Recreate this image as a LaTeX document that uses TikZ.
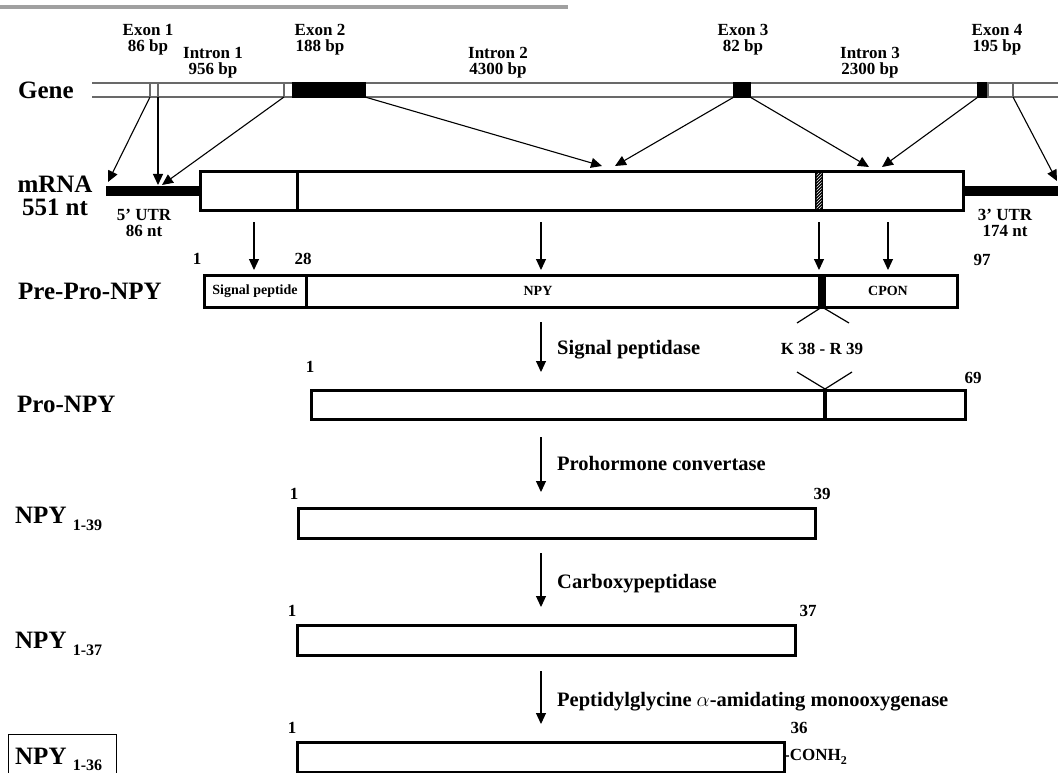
\documentclass[tikz,border=0pt]{standalone}
\usepackage{fontspec}
\setmainfont{Liberation Serif}
\usetikzlibrary{arrows.meta,patterns}
\definecolor{barcol}{RGB}{160,160,160}
\definecolor{genecol}{RGB}{105,105,105}

\begin{document}
\begin{tikzpicture}[x=1pt,y=-1pt,
  big/.style={font=\fontsize{25}{23}\selectfont\bfseries,inner sep=0pt,anchor=west},
  lab/.style={font=\fontsize{17}{16}\selectfont\bfseries,inner sep=0pt,align=center},
  num/.style={font=\fontsize{17}{17}\selectfont\bfseries,inner sep=0pt},
  enz/.style={font=\fontsize{20.5}{20.5}\selectfont\bfseries,inner sep=0pt,anchor=west},
  tiny/.style={font=\fontsize{14}{14}\selectfont\bfseries,inner sep=0pt},
  seg/.style={draw,line width=3pt,inner sep=0pt,outer sep=0pt,anchor=north west},
  exon/.style={draw=genecol,line width=1.5pt,inner sep=0pt,outer sep=0pt,anchor=north west,minimum height=14pt},
  arr/.style={-{Triangle[length=11pt,width=10pt]},line width=1.1pt}]

\useasboundingbox (0,0) rectangle (1058,773);
\fill[barcol] (0,5) rectangle (568,9);

% gene
\draw[genecol,line width=1.5pt] (92,83) -- (1062,83);
\draw[genecol,line width=1.5pt] (92,97) -- (1062,97);
\node[exon,fill=white,minimum width=8pt] (1) at (150,83) {};
\node[exon,fill=white,minimum width=9pt] (2) at (284,83) {};
\node[exon,fill=black,draw=black,minimum width=72pt] (3) at (293,83) {};
\node[exon,fill=black,draw=black,minimum width=16pt] (4) at (734,83) {};
\node[exon,fill=black,draw=black,minimum width=10pt] (5) at (978,83) {};
\node[exon,fill=white,minimum width=25pt] (6) at (988,83) {};

\node[big] (7) at (18,90) {Gene};
\node[lab] (8) at (148,40) {Exon 1\\86 bp};
\node[lab] (9) at (213,63) {Intron 1\\956 bp};
\node[lab] (10) at (320,40) {Exon 2\\188 bp};
\node[lab] (11) at (498,63) {Intron 2\\4300 bp};
\node[lab] (12) at (743,40) {Exon 3\\82 bp};
\node[lab] (13) at (870,63) {Intron 3\\2300 bp};
\node[lab] (14) at (997,40) {Exon 4\\195 bp};

% mRNA
\node[big,anchor=center,align=center] (15) at (55,196) {mRNA\\551 nt};
\node[seg,minimum width=763pt,minimum height=38pt] (16) at (200,172) {};
\draw[line width=3pt] (297,172) -- (297,210);
\fill[black] (815,172) rectangle (823,210);
\fill[pattern=north east lines,pattern color=white] (816.5,174) rectangle (821.5,208);
\coordinate (u5) at (106,191);
\coordinate (u3) at (1062,191);
\draw[line width=9pt] (u5) -- (16.west);
\draw[line width=9pt] (16.east) -- (u3);
\node[lab] (17) at (144,223) {5' UTR\\86 nt};
\node[lab] (18) at (1005,223) {3' UTR\\174 nt};

\coordinate (a1) at (108,182);
\coordinate (a2) at (158,185);
\coordinate (a3) at (162,185);
\coordinate (a4) at (602,166);
\coordinate (a5) at (615,166);
\coordinate (a6) at (869,167);
\coordinate (a7) at (882,167);
\coordinate (a8) at (1057,181);
\draw[arr] (1.south west) -- (a1);
\draw[arr] (1.south east) -- (a2);
\draw[arr] (2.south west) -- (a3);
\draw[arr] (3.south east) -- (a4);
\draw[arr] (4.south west) -- (a5);
\draw[arr] (4.south east) -- (a6);
\draw[arr] (5.south west) -- (a7);
\draw[arr] (6.south east) -- (a8);

% pre-pro-NPY
\coordinate (b1) at (254,222);
\coordinate (b2) at (541,222);
\coordinate (b3) at (819,222);
\coordinate (b4) at (888,222);
\coordinate (c1) at (254,270);
\coordinate (c2) at (541,270);
\coordinate (c3) at (819,270);
\coordinate (c4) at (888,270);
\draw[arr] (b1) -- (c1);
\draw[arr] (b2) -- (c2);
\draw[arr] (b3) -- (c3);
\draw[arr] (b4) -- (c4);

\node[seg,minimum width=753pt,minimum height=32pt] (19) at (204,275) {};
\draw[line width=3pt] (306,275) -- (306,307);
\fill[black] (818,275) rectangle (826,307);
\node[tiny] (20) at (255,291) {Signal peptide};
\node[tiny] (21) at (538,291) {NPY};
\node[tiny] (22) at (888,291) {CPON};
\node[num] (23) at (197,259) {1};
\node[num] (24) at (303,259) {28};
\node[num] (25) at (982,260) {97};
\node[big] (26) at (18,291) {Pre-Pro-NPY};

\coordinate (k1) at (822,307);
\coordinate (k2) at (797,323);
\coordinate (k3) at (849,323);
\draw[line width=1.2pt] (k2) -- (k1) -- (k3);
\node[num] (27) at (822,349) {K 38 - R 39};
\coordinate (k4) at (797,372);
\coordinate (k5) at (825,389);
\coordinate (k6) at (852,372);
\draw[line width=1.2pt] (k4) -- (k5) -- (k6);

\coordinate (s1) at (541,322);
\coordinate (s2) at (541,372);
\draw[arr] (s1) -- (s2);
\node[enz] (28) at (557,350) {Signal peptidase};

% pro-NPY
\node[seg,minimum width=654pt,minimum height=29pt] (29) at (311,390) {};
\draw[line width=4.5pt] (825,390) -- (825,419);
\node[num] (30) at (310,367) {1};
\node[num] (31) at (973,378) {69};
\node[big] (32) at (17,404) {Pro-NPY};

\coordinate (s3) at (541,437);
\coordinate (s4) at (541,492);
\draw[arr] (s3) -- (s4);
\node[enz] (33) at (557,463) {Prohormone convertase};

% NPY 1-39
\node[seg,minimum width=517pt,minimum height=30pt] (34) at (298,508) {};
\node[num] (35) at (294,494) {1};
\node[num] (36) at (822,494) {39};
\node[big,anchor=base west] (37) at (15,523) {NPY \raisebox{-7pt}{\fontsize{16}{16}\selectfont 1-39}};

\coordinate (s5) at (541,553);
\coordinate (s6) at (541,607);
\draw[arr] (s5) -- (s6);
\node[enz] (38) at (557,584) {Carboxypeptidase};

% NPY 1-37
\node[seg,minimum width=498pt,minimum height=30pt] (39) at (297,625) {};
\node[num] (40) at (292,611) {1};
\node[num] (41) at (808,611) {37};
\node[big,anchor=base west] (42) at (15,648) {NPY \raisebox{-7pt}{\fontsize{16}{16}\selectfont 1-37}};

\coordinate (s7) at (541,671);
\coordinate (s8) at (541,724);
\draw[arr] (s7) -- (s8);
\node[enz] (43) at (557,702) {Peptidylglycine $\alpha$-amidating monooxygenase};

% NPY 1-36
\node[seg,minimum width=487pt,minimum height=30pt] (44) at (297,742) {};
\node[num] (45) at (292,728) {1};
\node[num] (46) at (799,728) {36};
\node[num,anchor=west] (47) at (44.east) {-CONH\raisebox{-4pt}{\fontsize{12}{12}\selectfont 2}};
\node[big,anchor=base west] (48) at (15,764) {NPY \raisebox{-6pt}{\fontsize{16}{16}\selectfont 1-36}};
\draw[line width=0.8pt] (8,790) -- (8,734) -- (116,734) -- (116,790);
\end{tikzpicture}
\end{document}
